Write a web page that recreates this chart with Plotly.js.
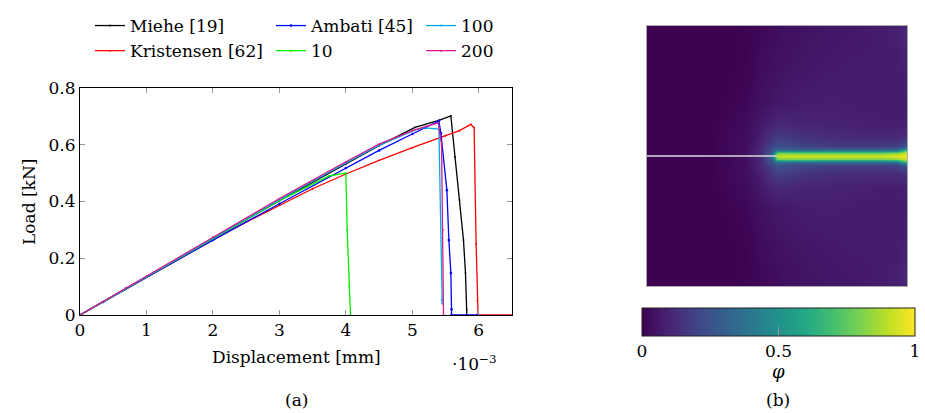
<!DOCTYPE html>
<html>
<head>
<meta charset="utf-8">
<script src="https://cdn.plot.ly/plotly-3.0.1.min.js"></script>
<style>html,body{margin:0;padding:0;background:#fff}#chart{width:925px;height:413px}</style>
</head>
<body>
<div id="chart"></div>
<script>
// ---------- (a) load-displacement curves (displacement in 1e-3 mm, load in kN) ----------
const miehe_x = [0, 1, 2, 3, 4, 4.5, 5.04, 5.41, 5.58, 5.64, 5.71, 5.77, 5.80, 5.82, 5.82];
const miehe_y = [0, 0.135, 0.27, 0.403, 0.532, 0.597, 0.661, 0.687, 0.702, 0.557, 0.405, 0.264, 0.148, 0.02, 0];

const ambati_x = [0, 0.35, 0.69, 1.4, 2, 3, 4, 4.5, 5, 5.2, 5.40, 5.43, 5.52, 5.55, 5.58, 5.59, 5.59, 5.98];
const ambati_y = [0, 0.046, 0.093, 0.187, 0.264, 0.392, 0.518, 0.58, 0.638, 0.66, 0.684, 0.64, 0.44, 0.264, 0.148, 0.02, 0, 0];

const kristensen_x = [0, 1, 2, 2.5, 3, 3.5, 4, 4.5, 5, 5.5, 5.71, 5.88, 5.93, 5.96, 5.98, 5.99, 6.5];
const kristensen_y = [0, 0.134, 0.265, 0.327, 0.387, 0.445, 0.497, 0.545, 0.59, 0.632, 0.65, 0.672, 0.66, 0.25, 0.05, 0, 0];

const l10_x = [0, 1, 2, 3, 3.75, 4.0, 4.02, 4.05, 4.07];
const l10_y = [0, 0.135, 0.27, 0.403, 0.49, 0.50, 0.30, 0.10, 0];

const l100_x = [0, 1, 2, 3, 4, 4.5, 5, 5.16, 5.40, 5.44, 5.45];
const l100_y = [0, 0.136, 0.272, 0.406, 0.536, 0.598, 0.648, 0.66, 0.655, 0.053, 0.04];

const l200_x = [0, 1, 2, 3, 4, 4.5, 5, 5.2, 5.39, 5.44, 5.46, 5.47];
const l200_y = [0, 0.137, 0.275, 0.41, 0.54, 0.602, 0.65, 0.665, 0.677, 0.6, 0.3, 0];

const xTicks = [0, 1, 2, 3, 4, 5, 6];
const yTicks = [0, 0.2, 0.4, 0.6, 0.8];
const yTickText = ['0', '0.2', '0.4', '0.6', '0.8'];

// ---------- (b) phase-field contour (normalized specimen coordinates) ----------
const field_x = [0, 0.25, 0.38, 0.44, 0.48, 0.5, 0.52, 0.6, 0.7, 0.8, 0.9, 0.96, 1];
const field_y = [0, 0.15, 0.3, 0.38, 0.43, 0.46, 0.474, 0.482, 0.49, 0.5, 0.51, 0.518, 0.526, 0.54, 0.57, 0.62, 0.7, 0.85, 1];
const row_000 = [0, 0, 0.01, 0.02, 0.03, 0.035, 0.04, 0.05, 0.06, 0.065, 0.075, 0.09, 0.12];
const row_015 = [0, 0, 0.01, 0.03, 0.04, 0.045, 0.05, 0.06, 0.07, 0.075, 0.075, 0.08, 0.09];
const row_030 = [0, 0, 0.02, 0.045, 0.06, 0.065, 0.07, 0.08, 0.085, 0.08, 0.075, 0.075, 0.075];
const row_038 = [0, 0.005, 0.03, 0.07, 0.1, 0.11, 0.11, 0.1, 0.095, 0.09, 0.085, 0.085, 0.09];
const row_043 = [0, 0.005, 0.035, 0.09, 0.15, 0.18, 0.18, 0.15, 0.13, 0.12, 0.12, 0.12, 0.14];
const row_046 = [0, 0.005, 0.04, 0.11, 0.2, 0.25, 0.24, 0.2, 0.18, 0.18, 0.18, 0.19, 0.26];
const row_0474 = [0, 0.005, 0.04, 0.12, 0.24, 0.32, 0.3, 0.28, 0.28, 0.28, 0.28, 0.3, 0.55];
const row_0482 = [0, 0.005, 0.04, 0.12, 0.27, 0.5, 0.5, 0.48, 0.48, 0.48, 0.48, 0.52, 0.82];
const row_049 = [0, 0.005, 0.04, 0.12, 0.3, 0.78, 0.8, 0.8, 0.8, 0.8, 0.8, 0.84, 0.94];
const row_050 = [0, 0.005, 0.04, 0.12, 0.33, 0.9, 0.93, 0.93, 0.93, 0.93, 0.93, 0.95, 0.98];
const crack_x = [0, 0.5];
const crack_y = [0.5, 0.5];
const cbTicks = [0, 0.5, 1];
const cbTickText = ['0', '0.5', '1'];

const field_z = [row_000, row_015, row_030, row_038, row_043, row_046, row_0474, row_0482, row_049, row_050,
                 row_049, row_0482, row_0474, row_046, row_043, row_038, row_030, row_015, row_000];

const FONT = '"DejaVu Serif", "Liberation Serif", serif';
const FS = 17;
const W = 925, H = 413;
const px = v => v / W;
const py = v => 1 - v / H;

function curve(x, y, name, color, legend, msize) {
  return {
    x: x, y: y, name: name, type: 'scatter', mode: 'lines+markers',
    line: {color: color, width: 1.3},
    marker: {color: color, size: msize},
    xaxis: 'x', yaxis: 'y', legend: legend, legendgroup: name
  };
}

const viridis = [
  [0, '#3c0150'], [0.1, '#482475'], [0.2, '#414487'], [0.3, '#355f8d'], [0.4, '#2a788e'],
  [0.5, '#21918c'], [0.6, '#22a884'], [0.7, '#44bf70'], [0.8, '#7ad151'], [0.9, '#bddf26'], [1, '#fde725']
];

const data = [
  curve(miehe_x, miehe_y, 'Miehe [19]', '#000000', 'legend', 1.8),
  curve(kristensen_x, kristensen_y, 'Kristensen [62]', '#ff0000', 'legend', 1.8),
  curve(ambati_x, ambati_y, 'Ambati [45]', '#0000ff', 'legend2', 2.6),
  curve(l10_x, l10_y, '10', '#00ee00', 'legend2', 1.8),
  curve(l100_x, l100_y, '100', '#00a8e8', 'legend3', 1.8),
  curve(l200_x, l200_y, '200', '#d81b8c', 'legend3', 1.8),
  {
    type: 'heatmap', x: field_x, y: field_y, z: field_z, xaxis: 'x2', yaxis: 'y2',
    zmin: 0, zmax: 1, zsmooth: 'best', colorscale: viridis, showlegend: false, hoverinfo: 'skip',
    colorbar: {
      orientation: 'h', lenmode: 'pixels', len: 273, thicknessmode: 'pixels', thickness: 28,
      x: px(642), xanchor: 'left', y: py(308), yanchor: 'top', xpad: 0, ypad: 0,
      outlinewidth: 1, outlinecolor: '#222', bordercolor: 'rgba(0,0,0,0)', borderwidth: 0,
      tickmode: 'array', tickvals: cbTicks, ticktext: cbTickText,
      ticks: 'inside', ticklen: 9, tickcolor: '#999', tickwidth: 1,
      tickfont: {family: FONT, size: FS, color: '#000'}
    }
  },
  {
    type: 'scatter', mode: 'lines', x: crack_x, y: crack_y, xaxis: 'x2', yaxis: 'y2',
    line: {color: '#d8d8d8', width: 1.6}, showlegend: false, hoverinfo: 'skip'
  }
];

const legendBase = {
  orientation: 'v', yanchor: 'top', xanchor: 'left', bgcolor: 'rgba(0,0,0,0)', borderwidth: 0,
  font: {family: FONT, size: FS, color: '#000'}, tracegroupgap: 0, itemwidth: 30
};

const layout = {
  width: W, height: H,
  margin: {l: 0, r: 0, t: 0, b: 0, autoexpand: false},
  paper_bgcolor: '#fff', plot_bgcolor: '#fff',
  font: {family: FONT, size: FS, color: '#000'},
  showlegend: true,
  legend: Object.assign({}, legendBase, {x: px(90), y: py(8)}),
  legend2: Object.assign({}, legendBase, {x: px(271), y: py(8)}),
  legend3: Object.assign({}, legendBase, {x: px(421), y: py(8)}),
  xaxis: {
    domain: [px(80), px(512)], range: [0, 6.5], anchor: 'y',
    tickmode: 'array', tickvals: xTicks, ticks: 'inside', ticklen: 5, tickcolor: '#999',
    showline: true, linecolor: '#000', linewidth: 1, mirror: 'ticks', showgrid: false, zeroline: false,
    tickfont: {family: FONT, size: FS, color: '#000'}
  },
  yaxis: {
    domain: [1 - 315 / H, 1 - 88 / H], range: [0, 0.8], anchor: 'x',
    tickmode: 'array', tickvals: yTicks, ticktext: yTickText, ticks: 'inside', ticklen: 5, tickcolor: '#999',
    showline: true, linecolor: '#000', linewidth: 1, mirror: 'ticks', showgrid: false, zeroline: false,
    tickfont: {family: FONT, size: FS, color: '#000'}
  },
  xaxis2: {
    domain: [px(647), px(907)], range: [0, 1], anchor: 'y2',
    showticklabels: false, ticks: '', showgrid: false, zeroline: false,
    showline: true, linecolor: '#aaa', linewidth: 1, mirror: true
  },
  yaxis2: {
    domain: [1 - 286 / H, 1 - 26 / H], range: [0, 1], anchor: 'x2',
    showticklabels: false, ticks: '', showgrid: false, zeroline: false,
    showline: true, linecolor: '#aaa', linewidth: 1, mirror: true
  },
  annotations: [
    {text: 'Displacement [mm]', x: px(296), y: py(357), xref: 'paper', yref: 'paper', showarrow: false, xanchor: 'center', yanchor: 'middle', font: {family: FONT, size: FS}},
    {text: '·10<sup>−3</sup>', x: px(474), y: py(363), xref: 'paper', yref: 'paper', showarrow: false, xanchor: 'center', yanchor: 'middle', font: {family: FONT, size: FS}},
    {text: 'Load [kN]', x: px(29), y: py(202), xref: 'paper', yref: 'paper', showarrow: false, textangle: -90, xanchor: 'center', yanchor: 'middle', font: {family: FONT, size: FS}},
    {text: '(a)', x: px(296), y: py(400), xref: 'paper', yref: 'paper', showarrow: false, xanchor: 'center', yanchor: 'middle', font: {family: FONT, size: FS}},
    {text: '(b)', x: px(778), y: py(400), xref: 'paper', yref: 'paper', showarrow: false, xanchor: 'center', yanchor: 'middle', font: {family: FONT, size: FS}},
    {text: '<i>φ</i>', x: px(778), y: py(371), xref: 'paper', yref: 'paper', showarrow: false, xanchor: 'center', yanchor: 'middle', font: {family: FONT, size: 18}}
  ]
};

Plotly.newPlot('chart', data, layout, {displayModeBar: false, staticPlot: true});
</script>
</body>
</html>
